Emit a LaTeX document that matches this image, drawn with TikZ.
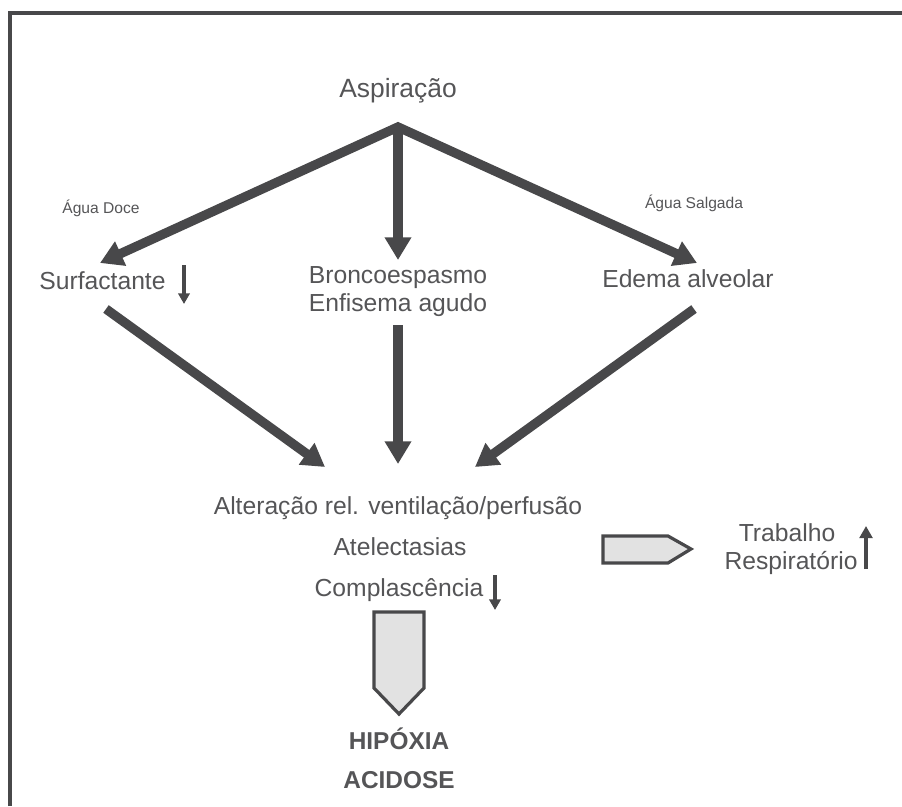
\documentclass[tikz,border=0pt]{standalone}
\usepackage{fontspec}
\setmainfont{Liberation Sans}
\usetikzlibrary{arrows.meta}
\definecolor{ink}{HTML}{48484A}
\definecolor{txt}{HTML}{555557}
\definecolor{fillg}{HTML}{E2E2E2}
\tikzset{
  lbl/.style={text=txt, inner sep=0pt, anchor=base, font=\fontsize{18.5}{22}\selectfont},
  small/.style={text=txt, inner sep=0pt, anchor=base, font=\fontsize{11.7}{14}\selectfont},
  big/.style={text=txt, inner sep=0pt, anchor=base, font=\fontsize{18.3}{22}\selectfont\bfseries},
  thick arrow/.style={draw=ink, line width=7pt, -{Triangle[length=17pt,width=19pt]}},
  tiny arrow/.style={draw=ink, line width=2.8pt, -{Triangle[length=8pt,width=8.5pt]}},
  hollow/.style={draw=ink, fill=fillg, line width=2.4pt, line join=miter},
}
\begin{document}
\begin{tikzpicture}[x=0.75pt,y=-0.75pt]
\useasboundingbox (0,0) rectangle (902,806);
% frame
\draw[ink, line width=3pt, line join=miter] (9.5,806) -- (9.5,13) -- (902,13);
% texts
\node[lbl, font=\fontsize{19.8}{24}\selectfont] (asp) at (398,98) {Aspiração};
\node[small] (doce) at (101,213) {Água Doce};
\node[small] (salg) at (694,208) {Água Salgada};
\node[lbl] (surf) at (102.5,289) {Surfactante};
\node[lbl] (bron1) at (398,283) {Broncoespasmo};
\node[lbl] (bron2) at (398,311) {Enfisema agudo};
\node[lbl] (edema) at (688,287) {Edema alveolar};
\node[lbl] (alt) at (398,514) {Alteração rel. ventilação/perfusão};
\node[lbl] (atel) at (400,555) {Atelectasias};
\node[lbl] (comp) at (399,596) {Complascência};
\node[lbl] (trab) at (787,541) {Trabalho};
\node[lbl] (resp) at (791,569) {Respiratório};
\node[big] (hip) at (399,749) {HIPÓXIA};
\node[big] (acid) at (399,788) {ACIDOSE};
% upper arrows
\coordinate (apex) at (398,127);
\coordinate (ltip) at (100,263);
\coordinate (mtip) at (398,260);
\coordinate (rtip) at (697,263);
\draw[draw=ink, line width=7pt, line join=miter, {Triangle[length=17pt,width=19pt]}-{Triangle[length=17pt,width=19pt]}] (ltip) -- (apex) -- (rtip);
\draw[thick arrow] (apex) -- (mtip);
% lower arrows
\coordinate (ls) at (106,309);
\coordinate (lt) at (325,467);
\coordinate (ms) at (398,325);
\coordinate (mt) at (398,464);
\coordinate (rs) at (694,309);
\coordinate (rt) at (475,467);
\draw[thick arrow] (ls) -- (lt);
\draw[thick arrow] (ms) -- (mt);
\draw[thick arrow] (rs) -- (rt);
% small arrows
\coordinate (sa1) at (184,265); \coordinate (sa2) at (184,304);
\draw[tiny arrow] (sa1) -- (sa2);
\coordinate (ca1) at (495,575); \coordinate (ca2) at (495,610);
\draw[tiny arrow] (ca1) -- (ca2);
\coordinate (ta1) at (866,569); \coordinate (ta2) at (866,526);
\draw[draw=ink, line width=3.2pt, -{Triangle[length=9pt,width=9.5pt]}] (ta1) -- (ta2);
% hollow arrows
\draw[hollow] (603,536) -- (668,536) -- (691,549) -- (668,563) -- (603,563) -- cycle;
\draw[hollow] (374,612) -- (424,612) -- (424,688) -- (399,714) -- (374,688) -- cycle;
\end{tikzpicture}
\end{document}
